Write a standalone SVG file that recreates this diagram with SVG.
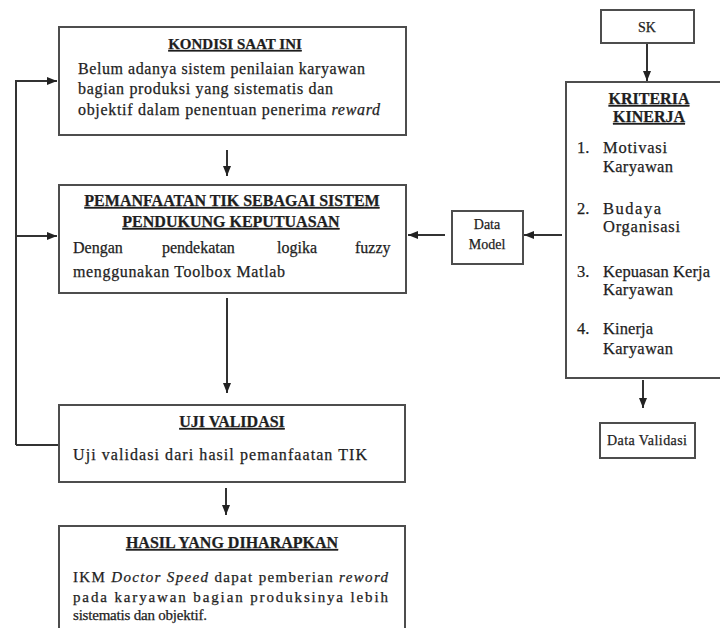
<svg xmlns="http://www.w3.org/2000/svg" width="720" height="628" viewBox="0 0 720 628">
<defs>
<marker id="ah" markerUnits="userSpaceOnUse" markerWidth="10" markerHeight="10" viewBox="0 0 10 10" refX="10" refY="5" orient="auto">
<path d="M0,1 L10,5 L0,9 Z" fill="#222"/>
</marker>
<style>
.box{fill:#fff;stroke:#4d4d4d;stroke-width:2}
.ln{fill:none;stroke:#333;stroke-width:2}
.t{font-family:"Liberation Serif","Times New Roman",serif;fill:#1e1e1e;stroke:#1e1e1e;stroke-width:0.25}
.h{font-size:16px;font-weight:bold;text-decoration:underline;text-anchor:middle}
.b{font-size:16px}
.b4{font-size:15px}
.s{font-size:14px;text-anchor:middle}
.k{font-size:16.5px}
</style>
</defs>
<rect width="720" height="628" fill="#fff"/>
<g id="connectors">
<path class="ln" d="M16,445 L16,81 L57,81" marker-end="url(#ah)"/>
<path class="ln" d="M16,236 L57,236" marker-end="url(#ah)"/>
<path class="ln" d="M16,445 L58,445"/>
<path class="ln" d="M227,150 L227,176" marker-end="url(#ah)"/>
<path class="ln" d="M227,298 L227,393" marker-end="url(#ah)"/>
<path class="ln" d="M226,488 L226,515" marker-end="url(#ah)"/>
<path class="ln" d="M445,235 L408,235" marker-end="url(#ah)"/>
<path class="ln" d="M562,235 L524,235" marker-end="url(#ah)"/>
<path class="ln" d="M647,44 L647,81" marker-end="url(#ah)"/>
<path class="ln" d="M643,380 L643,408" marker-end="url(#ah)"/>
</g>
<g id="kondisi">
<rect class="box" x="59" y="27" width="347" height="108"/>
<text class="t h" x="235" y="49" style="font-size:15px">KONDISI SAAT INI</text>
<text class="t b" x="78" y="74" textLength="287">Belum adanya sistem penilaian karyawan</text>
<text class="t b" x="78" y="94" textLength="255">bagian produksi yang sistematis dan</text>
<text class="t b" x="78" y="115" textLength="302">objektif dalam penentuan penerima <tspan font-style="italic">reward</tspan></text>
</g>
<g id="pemanfaatan">
<rect class="box" x="59" y="185" width="347" height="108"/>
<text class="t h" x="232" y="206">PEMANFAATAN TIK SEBAGAI SISTEM</text>
<text class="t h" x="231" y="227">PENDUKUNG KEPUTUASAN</text>
<text class="t b" y="253"><tspan x="73">Dengan</tspan><tspan x="162">pendekatan</tspan><tspan x="277">logika</tspan><tspan x="355">fuzzy</tspan></text>
<text class="t b" x="73" y="277" textLength="212">menggunakan Toolbox Matlab</text>
</g>
<g id="uji">
<rect class="box" x="59" y="405" width="346" height="77"/>
<text class="t h" x="232" y="427">UJI VALIDASI</text>
<text class="t b" x="73" y="460" textLength="294">Uji  validasi  dari  hasil  pemanfaatan TIK</text>
</g>
<g id="hasil">
<rect class="box" x="59" y="526" width="346" height="120"/>
<text class="t h" x="232" y="548">HASIL YANG DIHARAPKAN</text>
<text class="t b4" x="73" y="582" textLength="315">IKM  <tspan font-style="italic">Doctor Speed</tspan> dapat pemberian <tspan font-style="italic">reword</tspan></text>
<text class="t b4" x="73" y="602" textLength="315">pada karyawan bagian produksinya lebih</text>
<text class="t b4" x="73" y="620" textLength="134">sistematis dan objektif.</text>
</g>
<g id="datamodel">
<rect class="box" x="452" y="211" width="71" height="53"/>
<text class="t s" x="487" y="229">Data</text>
<text class="t s" x="487" y="249">Model</text>
</g>
<g id="sk">
<rect class="box" x="601" y="10" width="93" height="33"/>
<text class="t s" x="647" y="32">SK</text>
</g>
<g id="kriteria">
<rect class="box" x="566" y="82" width="170" height="296"/>
<text class="t h" x="649" y="104">KRITERIA</text>
<text class="t h" x="649" y="122">KINERJA</text>
<text class="t k" x="577" y="153">1.</text>
<text class="t k" x="603" y="153" textLength="64">Motivasi</text>
<text class="t k" x="603" y="172" textLength="70">Karyawan</text>
<text class="t k" x="577" y="214">2.</text>
<text class="t k" x="603" y="214" textLength="58">Budaya</text>
<text class="t k" x="603" y="232" textLength="77">Organisasi</text>
<text class="t k" x="577" y="277">3.</text>
<text class="t k" x="603" y="277" textLength="107">Kepuasan Kerja</text>
<text class="t k" x="603" y="295" textLength="70">Karyawan</text>
<text class="t k" x="577" y="334">4.</text>
<text class="t k" x="603" y="334" textLength="50">Kinerja</text>
<text class="t k" x="603" y="354" textLength="70">Karyawan</text>
</g>
<g id="datavalidasi">
<rect class="box" x="600" y="423" width="95" height="35"/>
<text class="t s" x="647" y="445" textLength="80">Data Validasi</text>
</g>
</svg>
